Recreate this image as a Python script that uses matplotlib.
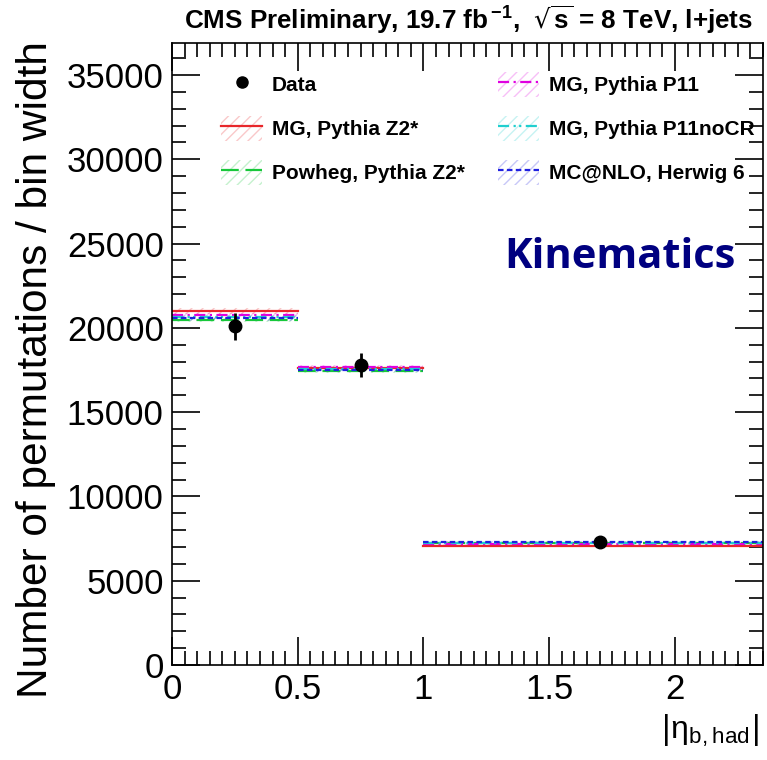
import matplotlib
matplotlib.use("Agg")
import matplotlib.pyplot as plt
from matplotlib.patches import Patch
from matplotlib.lines import Line2D
from matplotlib.ticker import MultipleLocator
import numpy as np

plt.rcParams['font.family'] = ['Liberation Sans', 'DejaVu Sans']
plt.rcParams['hatch.linewidth'] = 1.0

# ---------------- data ----------------
bin_edges = [0.0, 0.5, 1.0, 2.4]
data_x = [0.25, 0.75, 1.7]
data_y = [20100, 17800, 7310]
data_err = [800, 700, 150]

mc_labels = ["MG, Pythia Z2*", "Powheg, Pythia Z2*", "MG, Pythia P11",
             "MG, Pythia P11noCR", "MC@NLO, Herwig 6"]
mc_values = {
    "MG, Pythia Z2*":      [21000, 17600, 7080],
    "Powheg, Pythia Z2*":  [20480, 17450, 7230],
    "MG, Pythia P11":      [20750, 17650, 7200],
    "MG, Pythia P11noCR":  [20620, 17550, 7250],
    "MC@NLO, Herwig 6":    [20560, 17500, 7270],
}
mc_unc = [150, 120, 60]

mc_colors = {
    "MG, Pythia Z2*": "#e8262a",
    "Powheg, Pythia Z2*": "#17c83a",
    "MG, Pythia P11": "#e000e0",
    "MG, Pythia P11noCR": "#1fcfcf",
    "MC@NLO, Herwig 6": "#2020e0",
}
mc_styles = {
    "MG, Pythia Z2*": "-",
    "Powheg, Pythia Z2*": (0, (8, 3)),
    "MG, Pythia P11": (0, (5, 2, 1, 2)),
    "MG, Pythia P11noCR": (0, (5, 2, 1, 1.5, 1, 2)),
    "MC@NLO, Herwig 6": (0, (2.5, 1.5)),
}

title = r"CMS Preliminary, 19.7 fb$^{\,\mathregular{-1}}$,  $\sqrt{\mathregular{s}}$ = 8 TeV, l+jets"

W, H = 767, 760
fig = plt.figure(figsize=(W/100, H/100), dpi=100)
ax = fig.add_axes([172/W, 1-665/H, (763-172)/W, (665-43)/H])

for lab in mc_labels:
    c = mc_colors[lab]
    for i in range(len(data_x)):
        lo, hi = bin_edges[i], bin_edges[i+1]
        v = mc_values[lab][i]
        ax.fill_between([lo, hi], v - mc_unc[i], v + mc_unc[i], facecolor='none',
                        edgecolor=c, alpha=0.25, hatch='///', linewidth=0)
        ax.plot([lo, hi], [v, v], color=c, linestyle=mc_styles[lab], lw=1.6)

ax.errorbar(data_x, data_y, yerr=data_err, fmt='o', color='black', ms=9,
            elinewidth=2, capsize=0, zorder=10)

ax.set_xlim(0, 2.35)
ax.set_ylim(0, 36900)
ax.xaxis.set_major_locator(MultipleLocator(0.5))
ax.xaxis.set_minor_locator(MultipleLocator(0.05))
ax.yaxis.set_major_locator(MultipleLocator(5000))
ax.yaxis.set_minor_locator(MultipleLocator(1000))
ax.tick_params(which='both', direction='in', top=True, right=True, width=1.2)
ax.tick_params(which='major', length=20, labelsize=25, pad=6)
ax.tick_params(which='minor', length=10)
ax.set_xticks([0, 0.5, 1, 1.5, 2])
ax.set_xticklabels(['0', '0.5', '1', '1.5', '2'])
for s in ax.spines.values():
    s.set_linewidth(1.2)

ax.set_ylabel("Number of permutations / bin width", fontsize=30.5)
ax.yaxis.set_label_coords((56-172)/591, (665-370)/622)
fig.text(709/W, 1-731/H, r"$|\mathregular{\eta}_{\mathregular{b,had}}|$",
         fontsize=23, ha='center', va='center')

fig.text(468/W, 1-20/H, title, fontsize=18.7, fontweight='bold', ha='center', va='center')

fig.text(620/W, 1-257/H, "Kinematics", fontsize=30,
         fontweight='bold', color='#000080', ha='center', va='center', family='Open Sans')

# legend
fs = 15
fpx = fs * 100 / 72
handles = [Line2D([], [], marker='o', color='black', linestyle='none', ms=8)]
labels = ["Data"]
for lab in mc_labels:
    c = mc_colors[lab]
    p = Patch(facecolor='none', edgecolor=c, alpha=0.25, hatch='///', linewidth=0)
    l = Line2D([], [], color=c, linestyle=mc_styles[lab], lw=1.6)
    handles.append((p, l))
    labels.append(lab)
leg = ax.legend(handles, labels, ncol=2, frameon=False, loc='upper left',
                bbox_to_anchor=(221/W, 1-72/H), bbox_transform=fig.transFigure,
                borderpad=0, borderaxespad=0,
                prop={'weight': 'bold', 'size': fs}, handlelength=41/fpx,
                handleheight=30/fpx, labelspacing=19.5/fpx,
                columnspacing=33/fpx, handletextpad=10/fpx)

fig.savefig("out.png", dpi=100)
